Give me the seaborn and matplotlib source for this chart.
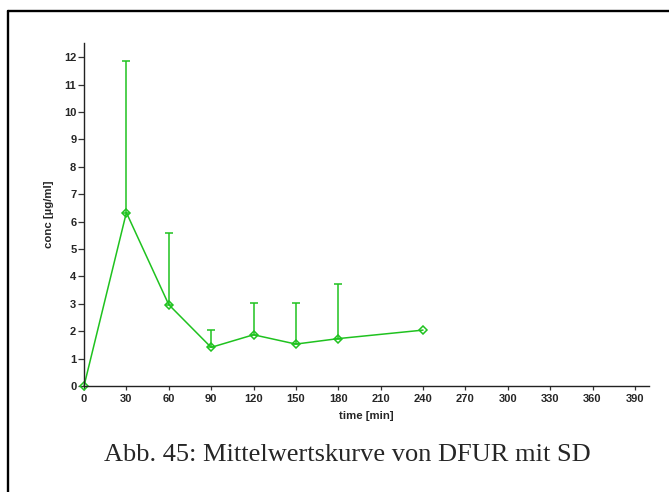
import matplotlib
matplotlib.use("Agg")
import matplotlib.pyplot as plt
from matplotlib.lines import Line2D
import seaborn as sns
import pandas as pd
import numpy as np

# Mean DFUR concentration per sampling time with upper SD
time_min = [0, 30, 60, 90, 120, 150, 180, 240]
conc_mean = [0.0, 6.33, 2.97, 1.41, 1.87, 1.53, 1.73, 2.04]
conc_sd = [0.0, 5.53, 2.60, 0.62, 1.17, 1.49, 2.00, 0.0]

x_ticks = list(range(0, 391, 30))
y_ticks = list(range(0, 13))

caption = "Abb. 45: Mittelwertskurve von DFUR mit SD"

sns.set_style("ticks")
plt.rcParams["font.family"] = ["Liberation Sans", "DejaVu Sans"]

green = "#1fc21f"

df = pd.DataFrame({"time": time_min, "conc": conc_mean, "sd": conc_sd})

fig = plt.figure(figsize=(6.69, 4.92), dpi=100)
ax = fig.add_axes([84 / 669, (492 - 386) / 492, (649 - 84) / 669, (386 - 43) / 492])

sns.lineplot(data=df, x="time", y="conc", ax=ax, color=green, linewidth=1.1,
             marker="D", markersize=4.2, markerfacecolor="none",
             markeredgecolor=green, markeredgewidth=1.1, clip_on=False)

# upper standard deviation only
err = df[df["sd"] > 0]
ax.errorbar(err["time"], err["conc"], yerr=[np.zeros(len(err)), err["sd"]],
            fmt="none", ecolor=green, elinewidth=1.1, capsize=3, capthick=1.1,
            clip_on=False)

ax.set_xlim(0, 400)
ax.set_ylim(0, 12.52)
ax.set_xticks(x_ticks)
ax.set_yticks(y_ticks)
ax.tick_params(axis="both", labelsize=8, width=0.9, color="#333333")
ax.tick_params(axis="x", length=3, pad=3)
ax.tick_params(axis="y", length=4, pad=1.5)
for lab in ax.get_xticklabels() + ax.get_yticklabels():
    lab.set_fontweight("bold")

ax.set_xlabel("time [min]", fontsize=8.2, fontweight="bold", labelpad=5)
ax.set_ylabel("conc [µg/ml]", fontsize=8.2, fontweight="bold", labelpad=7)

sns.despine(ax=ax)
for side in ("left", "bottom"):
    ax.spines[side].set_linewidth(1.0)
    ax.spines[side].set_color("#222222")

fig.text(347 / 669, 1 - 461 / 492, caption, ha="center", va="baseline",
         fontsize=19, family=["Liberation Serif", "DejaVu Serif"])

# surrounding frame (top and left edges)
fig.add_artist(Line2D([7.5 / 669, 7.5 / 669], [0, 1 - 10.5 / 492],
                      transform=fig.transFigure, color="black", linewidth=1.7))
fig.add_artist(Line2D([7.5 / 669, 1], [1 - 10.5 / 492, 1 - 10.5 / 492],
                      transform=fig.transFigure, color="black", linewidth=1.7))

fig.savefig("out.png", dpi=100)
